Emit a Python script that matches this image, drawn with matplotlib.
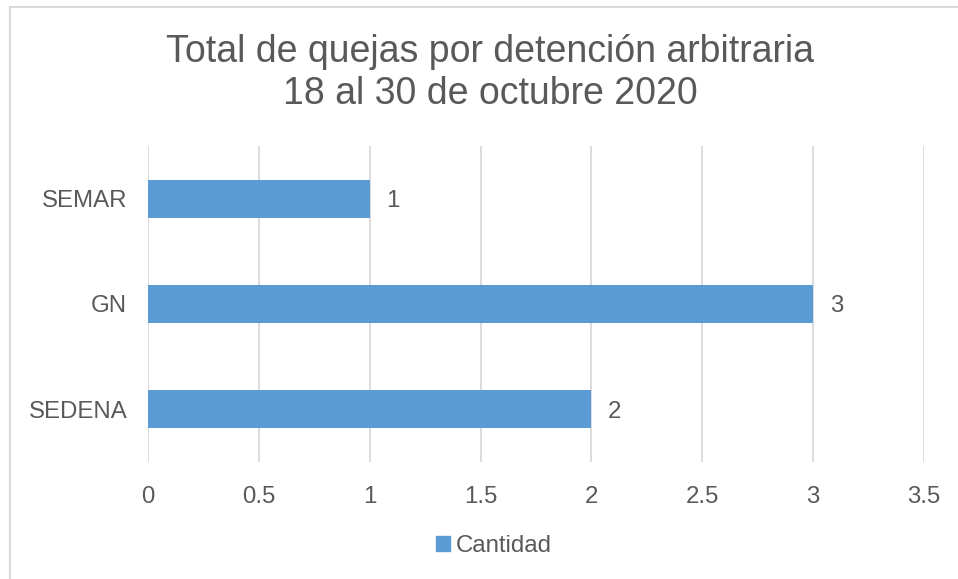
import matplotlib
matplotlib.use("Agg")
import matplotlib.pyplot as plt
from matplotlib.patches import Rectangle, Patch

categories = ["SEDENA", "GN", "SEMAR"]
values = [2, 3, 1]
xticks = [0, 0.5, 1, 1.5, 2, 2.5, 3, 3.5]
xtick_labels = ["0", "0.5", "1", "1.5", "2", "2.5", "3", "3.5"]
title = "Total de quejas por detención arbitraria\n18 al 30 de octubre 2020"
series_name = "Cantidad"

plt.rcParams['font.family'] = ['Liberation Sans', 'DejaVu Sans']
txt = "#595959"
bar_color = "#5B9BD5"
grid_color = "#D9D9D9"
fs = 17.3

W, H = 958, 579
fig = plt.figure(figsize=(W/100, H/100), dpi=100)
fig.patches.append(Rectangle((10/W, -0.05), 1.2, 1 - 7/H + 0.05, transform=fig.transFigure,
                             fill=False, edgecolor=grid_color, linewidth=1.5))

ax = fig.add_axes([148/W, 1 - 462/H, (924-148)/W, (462-146)/H])
y = range(len(categories))
ax.barh(y, values, height=0.36, color=bar_color, zorder=3)
for i, v in zip(y, values):
    ax.text(v + 0.075, i, str(v), va='center_baseline', ha='left', fontsize=fs, color=txt)

ax.set_xlim(0, 3.5)
ax.set_ylim(-0.5, 2.5)
ax.set_xticks(xticks)
ax.set_xticklabels(xtick_labels, fontsize=fs, color=txt)
ax.set_yticks(list(y))
ax.set_yticklabels(categories, fontsize=fs, color=txt)
ax.tick_params(axis='x', length=0, pad=17)
ax.tick_params(axis='y', length=0, pad=15)
ax.xaxis.grid(True, color=grid_color, linewidth=1.3, zorder=0)
for s in ax.spines.values():
    s.set_visible(False)

fig.text(490/W, 1 - 73/H, title, ha='center', va='center', fontsize=27, color=txt,
         linespacing=1.2)

fig.legend(handles=[Patch(color=bar_color, label=series_name)], loc='center',
           bbox_to_anchor=(494/W, 1 - 546/H), frameon=False, fontsize=fs,
           labelcolor=txt, handlelength=0.55, handleheight=0.55, handletextpad=0.25)

fig.savefig("out.png", dpi=100)
